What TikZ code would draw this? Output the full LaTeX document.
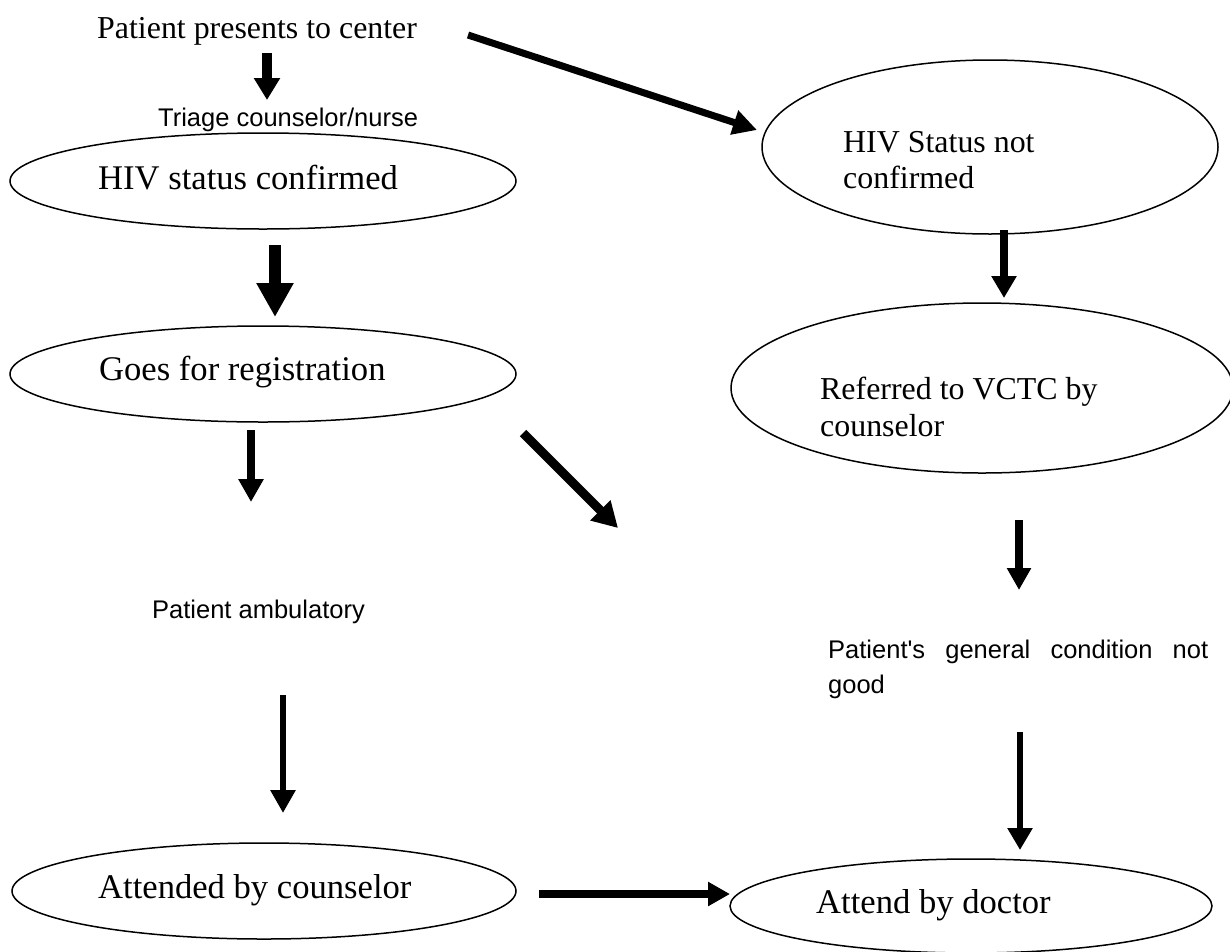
\documentclass[tikz,border=0pt]{standalone}
\usepackage{fontspec}
\setmainfont{Liberation Serif}
\newfontfamily\labelsans{Liberation Sans}
\usetikzlibrary{arrows.meta,shapes.geometric}
\begin{document}
\begin{tikzpicture}[x=1pt,y=-1pt,
  stage/.style args={#1/#2}{draw,ellipse,line width=1.5pt,inner sep=0pt,
    minimum width=2*#1,minimum height=2*#2},
  bigserif/.style={font=\fontsize{34.6}{40}\selectfont,anchor=base west,inner sep=0pt},
  smallserif/.style={font=\fontsize{31.9}{36}\selectfont,anchor=base west,inner sep=0pt},
  sanslabel/.style={font=\labelsans\fontsize{25.5}{35}\selectfont,anchor=base west,inner sep=0pt},
  flow/.style args={#1/#2/#3}{line width=#1,-{Triangle[width=#2,length=#3]}}]
\useasboundingbox (0,0) rectangle (1230,951);

% the six stages
\node[stage=253pt/48pt] (conf)    at (263,181) {};
\node[stage=228pt/87pt] (notconf) at (990,147) {};
\node[stage=253pt/48pt] (reg)     at (263,374) {};
\node[stage=251pt/85pt] (vctc)    at (982,388) {};
\node[stage=252pt/48pt] (couns)   at (264,891) {};
\node[stage=241pt/47pt] (doc)     at (971,906) {};

% texts
\node[smallserif] (start) at (97,38) {Patient presents to center};
\node[sanslabel] (triage) at (158,126) {Triage counselor/nurse};
\node[bigserif] (confT) at (98,189) {HIV status confirmed};
\node[smallserif] (notconfA) at (843,152) {HIV Status not};
\node[smallserif] (notconfB) at (843,188) {confirmed};
\node[bigserif] (regT) at (99,380) {Goes for registration};
\node[smallserif] (vctcA) at (820,399) {Referred to VCTC by};
\node[smallserif] (vctcB) at (820,436) {counselor};
\node[sanslabel] (amb) at (152,618) {Patient ambulatory};
\node[sanslabel] (condA) at (828,658)
  {\makebox[380pt][s]{Patient's general condition not}};
\node[sanslabel] (condB) at (828,693) {good};
\node[bigserif] (counsT) at (98,898) {Attended by counselor};
\node[bigserif] (docT) at (816,913) {Attend by doctor};

% connectors
\coordinate (a1s) at (267,53);   \coordinate (a1e) at (267,100);
\draw[flow=10pt/25pt/22pt] (a1s) -- (a1e);
\coordinate (a2s) at (468,35);   \coordinate (a2e) at (757,130);
\draw[flow=7pt/24pt/24pt] (a2s) -- (a2e);
\coordinate (a3s) at (275,245);  \coordinate (a3e) at (275,317);
\draw[flow=12pt/35pt/34pt] (a3s) -- (a3e);
\coordinate (a4s) at (1004,230); \coordinate (a4e) at (1004,298);
\draw[flow=8pt/24pt/22pt] (a4s) -- (a4e);
\coordinate (a5s) at (251,430);  \coordinate (a5e) at (251,502);
\draw[flow=8pt/24pt/23pt] (a5s) -- (a5e);
\coordinate (a6s) at (523,433);  \coordinate (a6e) at (618,528);
\draw[flow=9pt/27pt/25pt] (a6s) -- (a6e);
\coordinate (a7s) at (1019,520); \coordinate (a7e) at (1019,590);
\draw[flow=8pt/23pt/22pt] (a7s) -- (a7e);
\coordinate (a8s) at (283,695);  \coordinate (a8e) at (283,813);
\draw[flow=6pt/24pt/23pt] (a8s) -- (a8e);
\coordinate (a9s) at (1020,732); \coordinate (a9e) at (1020,850);
\draw[flow=6pt/24pt/22pt] (a9s) -- (a9e);
\coordinate (a10s) at (539,894); \coordinate (a10e) at (730,894);
\draw[flow=8pt/23pt/22pt] (a10s) -- (a10e);
\end{tikzpicture}
\end{document}
